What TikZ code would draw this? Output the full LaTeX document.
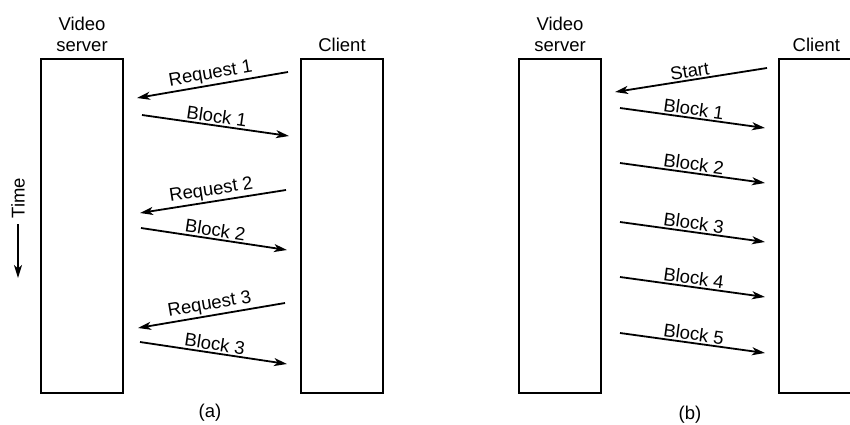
\documentclass[tikz,border=0pt]{standalone}
\usepackage{fontspec}
\setmainfont{Liberation Sans}
\usetikzlibrary{arrows.meta,positioning}
\newcommand{\boxwidth}{82pt}
\newcommand{\boxheight}{334pt}
\newcommand{\headgap}{6pt}
\tikzset{
  station/.style={draw, line width=1.3pt, minimum width=\boxwidth,
    minimum height=\boxheight, inner sep=0pt},
  heading/.style={align=center, inner sep=0pt},
  msg/.style={line width=1.8pt,
    -{Stealth[length=13pt,width=8pt,inset=3.5pt]}},
  msglabel/.style={above, sloped, inner sep=1.5pt},
}
% one message between server and client
\newcommand{\msgarrow}[4]{%
  \coordinate (#1-from) at (#2);
  \coordinate (#1-to) at (#3);
  \draw[msg] (#1-from) -- node[msglabel] {#4} (#1-to);}

\begin{document}
\begin{tikzpicture}[x=1pt, y=-1pt, font=\fontsize{18.5pt}{21.5pt}\selectfont]
\useasboundingbox (0,0) rectangle (850,425);

% ====================================================================
%
%         (a) pull: one request per block
%
% ====================================================================

  % server and client
  \node[station] (srvA) at (82,226) {};
  \node[station] (cliA) at (342,226) {};
  \node[heading, above=\headgap of srvA] (srvAhead) {Video\\server};
  \node[heading, above=\headgap of cliA] (cliAhead) {Client};

  % requests and blocks
  \msgarrow{reqA1}{288,72}{137,98}{Request 1}
  \msgarrow{blkA1}{142,115}{289,136}{Block 1}
  \msgarrow{reqA2}{286,190}{140,213}{Request 2}
  \msgarrow{blkA2}{141,228}{287,250}{Block 2}
  \msgarrow{reqA3}{285,303}{138,328}{Request 3}
  \msgarrow{blkA3}{140,342}{287,364}{Block 3}

  % time axis
  \node[rotate=90, inner sep=2pt] (time) at (18,198) {Time};
  \coordinate (timeEnd) at (18,278);
  \draw[msg, shorten <=4pt] (time.west) -- (timeEnd);

  \node (capA) at (210,413) {(a)};

% ====================================================================
%
%         (b) push: one start, then the blocks
%
% ====================================================================

  % server and client
  \node[station] (srvB) at (560,226) {};
  \node[station] (cliB) at (820,226) {};
  \node[heading, above=\headgap of srvB] (srvBhead) {Video\\server};
  \node[heading, above=\headgap of cliB.north west, anchor=south,
    xshift=38pt] (cliBhead) {Client};

  % start and blocks
  \msgarrow{start}{767,68}{615,92}{Start}
  \foreach \i/\y in {1/108, 2/163, 3/222, 4/277, 5/333} {
    \msgarrow{blkB\i}{620,\y}{765,\y+20}{Block \i}
  }

  \node (capB) at (690,415) {(b)};

\end{tikzpicture}
\end{document}
